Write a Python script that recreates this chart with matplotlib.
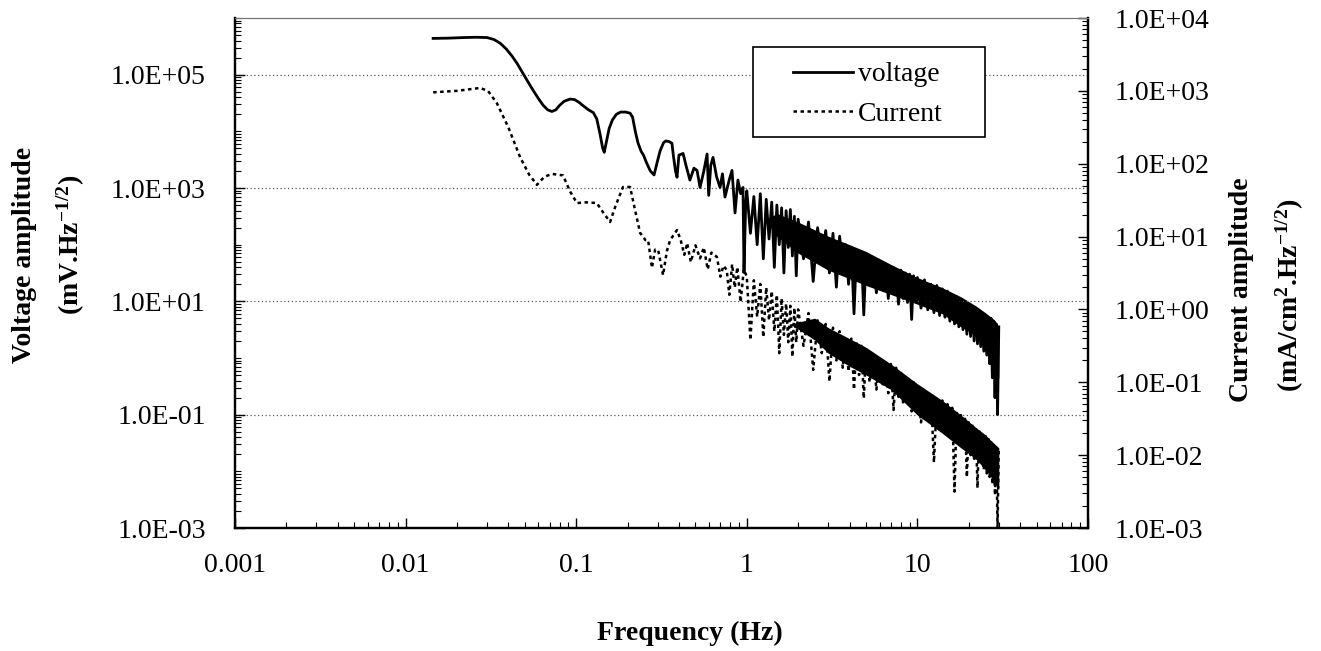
"""Voltage and current noise spectra (log-log, twin y axes)."""
import numpy as np
import matplotlib
matplotlib.use("Agg")
import matplotlib.pyplot as plt
from matplotlib.ticker import LogLocator, FixedLocator, FuncFormatter, NullFormatter
from matplotlib.patches import Rectangle

plt.rcParams['font.family'] = ['Liberation Serif', 'DejaVu Serif']
plt.rcParams['mathtext.fontset'] = 'custom'
plt.rcParams['mathtext.rm'] = 'Liberation Serif:bold'
plt.rcParams['mathtext.it'] = 'Liberation Serif:bold'
plt.rcParams['mathtext.bf'] = 'Liberation Serif:bold'

# ---- data (amplitudes as log10 values on each axis) ----
# smooth low-frequency part of the voltage spectrum
volt_early_f = [0.0145, 0.018, 0.022, 0.026, 0.030, 0.033, 0.036, 0.039, 0.042, 0.045,
                0.0488, 0.052, 0.056, 0.060, 0.064, 0.068, 0.072, 0.076, 0.080, 0.085,
                0.092, 0.098, 0.104, 0.110, 0.118, 0.126, 0.132, 0.138, 0.143, 0.146,
                0.150, 0.156, 0.163, 0.172, 0.182, 0.195, 0.207, 0.214, 0.222, 0.230,
                0.240, 0.248, 0.258, 0.272, 0.286, 0.298, 0.310, 0.325, 0.335, 0.350,
                0.364, 0.372, 0.382, 0.390, 0.400, 0.423, 0.440, 0.464, 0.490, 0.511,
                0.532, 0.560, 0.585, 0.598, 0.615, 0.634, 0.665, 0.697, 0.720, 0.745,
                0.790, 0.819, 0.853, 0.887, 0.920, 0.950, 0.963, 0.985]
volt_early_log = [5.64, 5.645, 5.655, 5.66, 5.655, 5.62, 5.55, 5.45, 5.33, 5.20,
                  5.02, 4.88, 4.72, 4.58, 4.46, 4.38, 4.35, 4.38, 4.46, 4.53,
                  4.57, 4.56, 4.51, 4.45, 4.38, 4.33, 4.22, 3.95, 3.70, 3.63,
                  3.80, 4.05, 4.20, 4.30, 4.34, 4.34, 4.32, 4.25, 4.00, 3.80,
                  3.65, 3.58, 3.45, 3.30, 3.23, 3.45, 3.65, 3.80, 3.83, 3.82,
                  3.79, 3.55, 3.30, 3.19, 3.58, 3.61, 3.40, 3.14, 3.35, 3.31,
                  3.01, 3.30, 3.60, 2.87, 3.40, 3.54, 3.20, 3.01, 3.25, 2.84,
                  3.15, 3.31, 2.56, 3.14, 2.90, 3.01, 1.51, 2.73]

# smooth low-frequency part of the current spectrum
curr_early_f = [0.0145, 0.020, 0.0273, 0.0304, 0.0343, 0.040, 0.0469, 0.053, 0.0589, 0.065,
                0.0721, 0.0837, 0.092, 0.101, 0.115, 0.132, 0.145, 0.158, 0.170, 0.188,
                0.207, 0.222, 0.237, 0.255, 0.264, 0.278, 0.290, 0.302, 0.323, 0.340,
                0.355, 0.390, 0.41, 0.43, 0.447, 0.47, 0.50, 0.532, 0.56, 0.59,
                0.62, 0.668, 0.70, 0.73, 0.763, 0.79, 0.82, 0.85, 0.88, 0.92, 0.96]
curr_early_log = [2.98, 3.00, 3.04, 3.00, 2.83, 2.5, 2.09, 1.85, 1.71, 1.82,
                  1.86, 1.84, 1.62, 1.46, 1.47, 1.46, 1.32, 1.20, 1.42, 1.68,
                  1.68, 1.35, 1.05, 0.95, 0.95, 0.57, 0.82, 0.82, 0.47, 0.80,
                  0.95, 1.09, 0.95, 0.75, 0.91, 0.65, 0.88, 0.7, 0.85, 0.55,
                  0.78, 0.72, 0.45, 0.6, 0.54, 0.2, 0.62, 0.3, 0.58, 0.1, 0.55]

# noisy part above 1 Hz (same frequency bins for both signals)
band_f = [1.0, 1.05, 1.1, 1.15, 1.2, 1.25, 1.3, 1.35, 1.4, 1.45,
          1.5, 1.55, 1.6, 1.65, 1.7, 1.75, 1.8, 1.85, 1.9, 1.95,
          2.0, 2.15, 2.3, 2.45, 2.6, 2.75, 2.9, 3.05, 3.2, 3.35,
          3.5, 3.65, 3.8, 3.95, 4.1, 4.25, 4.4, 4.55, 4.7, 4.85,
          5.0, 5.25, 5.5, 5.75, 6.0, 6.25, 6.5, 6.75, 7.0, 7.25,
          7.5, 7.75, 8.0, 8.25, 8.5, 8.75, 9.0, 9.25, 9.5, 9.75,
          10, 10.5, 11, 11.5, 12, 12.5, 13, 13.5, 14, 14.5,
          15, 15.5, 16, 16.5, 17, 17.5, 18, 18.5, 19, 19.5,
          20, 20.5, 21, 21.5, 22, 22.5, 23, 23.5, 24, 24.5,
          25, 25.5, 26, 26.5, 27, 27.5, 28, 28.5, 29, 29.5, 30]
volt_band_log = [2.95, 2.2, 2.85, 2.0, 2.9, 1.75, 2.8, 2.1, 2.75, 1.6,
                 2.7, 2.0, 2.65, 1.5, 2.6, 1.95, 2.62, 1.8, 2.5, 1.45,
                 2.45, 1.75, 2.4, 1.35, 2.3, 1.7, 2.25, 1.5, 2.2, 1.25,
                 2.15, 1.55, 2.0, 1.3, 1.95, 0.78, 1.9, 1.4, 1.85, 0.76,
                 1.8, 1.3, 1.75, 1.15, 1.7, 1.2, 1.62, 1.05, 1.6, 1.15,
                 1.55, 0.95, 1.55, 1.05, 1.5, 0.98, 1.48, 0.68, 1.45, 1.0,
                 1.42, 0.88, 1.38, 0.85, 1.3, 0.8, 1.28, 0.75, 1.22, 0.72,
                 1.18, 0.65, 1.1, 0.6, 1.08, 0.55, 1.02, 0.5, 0.98, 0.42,
                 0.92, 0.38, 0.9, 0.3, 0.85, 0.25, 0.82, 0.2, 0.78, 0.12,
                 0.75, 0.05, 0.72, -0.1, 0.7, -0.35, 0.65, -0.7, 0.6, -1.0, 0.55]
curr_band_log = [0.45, -0.42, 0.4, -0.1, 0.35, -0.38, 0.3, -0.15, 0.25, -0.3,
                 0.2, -0.6, 0.15, -0.35, 0.08, -0.45, 0.05, -0.65, 0.02, -0.45,
                 0.0, -0.5, -0.05, -0.83, -0.15, -0.6, -0.2, -0.99, -0.25, -0.7,
                 -0.3, -0.8, -0.38, -0.85, -0.4, -1.1, -0.45, -0.9, -0.5, -1.22,
                 -0.55, -1.0, -0.6, -1.1, -0.65, -1.05, -0.7, -1.15, -0.75, -1.38,
                 -0.8, -1.2, -0.85, -1.3, -0.9, -1.25, -0.95, -1.4, -1.0, -1.38,
                 -1.05, -1.55, -1.1, -1.5, -1.15, -2.1, -1.22, -1.65, -1.25, -1.7,
                 -1.3, -1.75, -1.35, -2.5, -1.4, -1.85, -1.45, -1.9, -1.5, -2.3,
                 -1.55, -2.0, -1.58, -2.05, -1.62, -2.45, -1.65, -2.1, -1.7, -2.2,
                 -1.72, -2.25, -1.75, -2.3, -1.8, -2.4, -1.85, -2.55, -1.88, -3.0, -1.9]

# solid black core of the dense noise bands (upper / lower edge)
volt_core_f = [1.3, 1.5, 2.0, 3.0, 4.0, 5.0, 7.0, 10, 14, 18, 22, 25, 27, 28.5, 30]
volt_core_hi = [2.45, 2.55, 2.4, 2.15, 2.0, 1.88, 1.65, 1.42, 1.24, 1.08, 0.92, 0.8, 0.72, 0.66, 0.55]
volt_core_lo = [2.45, 2.15, 1.85, 1.55, 1.4, 1.28, 1.12, 0.95, 0.78, 0.55, 0.4, 0.25, 0.05, -0.3, -0.35]
curr_core_f = [1.8, 2.5, 3.0, 4.0, 5.0, 7.0, 10, 14, 18, 22, 25, 27, 28.5, 30]
curr_core_hi = [-0.2, -0.12, -0.25, -0.4, -0.52, -0.75, -1.02, -1.25, -1.45, -1.62, -1.72, -1.8, -1.85, -1.9]
curr_core_lo = [-0.2, -0.42, -0.6, -0.78, -0.9, -1.1, -1.45, -1.7, -1.9, -2.05, -2.2, -2.3, -2.4, -2.45]

legend_labels = ['voltage', 'Current']
x_ticks = [0.001, 0.01, 0.1, 1, 10, 100]
left_ticks = [1e-3, 1e-1, 1e1, 1e3, 1e5]
right_ticks = [1e-3, 1e-2, 1e-1, 1e0, 1e1, 1e2, 1e3, 1e4]

volt_freq = np.array(volt_early_f + band_f)
volt_amp = 10.0 ** np.array(volt_early_log + volt_band_log)
curr_freq = np.array(curr_early_f + band_f)
curr_amp = 10.0 ** np.array(curr_early_log + curr_band_log)

W, H = 1321, 651
FS = 20
fig = plt.figure(figsize=(W / 100, H / 100), dpi=100)
ax = fig.add_axes([235 / W, 1 - 528 / H, (1088 - 235) / W, (528 - 18) / H])
ax2 = ax.twinx()

ax.set_xscale('log')
ax.set_yscale('log')
ax2.set_yscale('log')
ax.set_xlim(1e-3, 1e2)
ax.set_ylim(1e-3, 1e6)
ax2.set_ylim(1e-3, 1e4)

ax.fill_between(volt_core_f, 10.0 ** np.array(volt_core_lo), 10.0 ** np.array(volt_core_hi),
                color='black', lw=0)
ax2.fill_between(curr_core_f, 10.0 ** np.array(curr_core_lo), 10.0 ** np.array(curr_core_hi),
                 color='black', lw=0)
ln_v, = ax.plot(volt_freq, volt_amp, color='black', lw=2.0, solid_joinstyle='round')
ln_c, = ax2.plot(curr_freq, curr_amp, color='black', lw=1.8, linestyle=(0, (1.4, 1.4)))

sci = FuncFormatter(lambda v, _: f"{v:.1E}")
ax.xaxis.set_major_locator(FixedLocator(x_ticks))
ax.xaxis.set_major_formatter(FuncFormatter(lambda v, _: f"{v:g}"))
ax.xaxis.set_minor_locator(LogLocator(base=10, subs=np.arange(1, 10), numticks=50))
ax.xaxis.set_minor_formatter(NullFormatter())
ax.yaxis.set_major_locator(FixedLocator(left_ticks))
ax.yaxis.set_major_formatter(sci)
ax.yaxis.set_minor_locator(LogLocator(base=10, subs=np.arange(1, 10), numticks=50))
ax.yaxis.set_minor_formatter(NullFormatter())
ax2.yaxis.set_major_locator(FixedLocator(right_ticks))
ax2.yaxis.set_major_formatter(sci)
ax2.yaxis.set_minor_locator(LogLocator(base=10, subs=np.arange(2, 10), numticks=50))
ax2.yaxis.set_minor_formatter(NullFormatter())

ax.tick_params(which='both', direction='in', labelsize=FS, right=False, top=False)
ax.tick_params(which='major', length=7, width=1)
ax.tick_params(which='minor', length=4, width=0.8)
ax.tick_params(axis='y', pad=21)
ax.tick_params(axis='x', pad=18)
ax2.tick_params(which='both', direction='in', labelsize=FS, pad=19)
ax2.tick_params(which='major', length=7, width=1)
ax2.tick_params(which='minor', length=4, width=0.8)

ax.grid(True, axis='y', which='major', linestyle=(0, (1, 2)), color='0.35', lw=0.9)

for a in (ax, ax2):
    for side in ('left', 'bottom', 'right'):
        a.spines[side].set_linewidth(1.6)
    a.spines['top'].set_linewidth(0.8)
    a.spines['top'].set_color('0.45')

# legend box
ax2.add_patch(Rectangle((753 / W, 1 - 137 / H), 232 / W, 90 / H, transform=fig.transFigure,
                        facecolor='white', edgecolor='black', lw=1.2, zorder=4, clip_on=False))
ax2.legend([ln_v, ln_c], legend_labels, loc='upper left',
           bbox_to_anchor=(793 / W, 1 - 62 / H), bbox_transform=fig.transFigure,
           frameon=False, fontsize=FS, handlelength=2.15, handletextpad=0.2,
           labelspacing=0.5, borderpad=0, borderaxespad=0)

# axis titles
lab = dict(rotation=90, ha='center', va='center', fontsize=FS, fontweight='bold')
fig.text(25 / W, 1 - 255 / H, 'Voltage amplitude', **lab)
fig.text(71 / W, 1 - 245 / H, r'(mV.Hz$^{-1/2}$)', **lab)
fig.text(1242 / W, 1 - 290 / H, 'Current amplitude', **lab)
fig.text(1290 / W, 1 - 295 / H, r'(mA/cm$^{2}$.Hz$^{-1/2}$)', **lab)
fig.text(690 / W, 1 - 633 / H, 'Frequency (Hz)', ha='center', va='center',
         fontsize=FS, fontweight='bold')

fig.savefig('out.png', dpi=100)
